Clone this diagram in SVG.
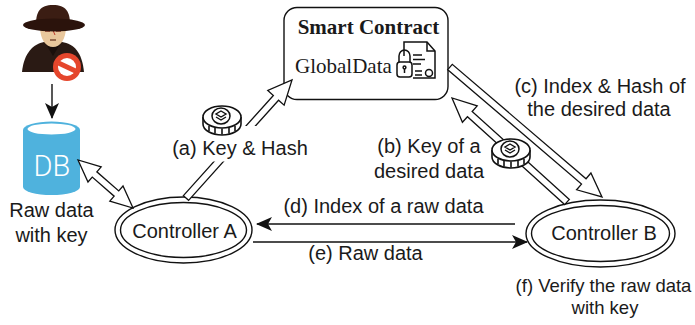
<svg xmlns="http://www.w3.org/2000/svg" width="695" height="325" viewBox="0 0 695 325">
  <style>
    .lbl { font-family: "Liberation Sans", Arial, sans-serif; font-size: 20px; fill: #1a1a1a; }
    .sm { font-size: 18.5px; }
    .mid { text-anchor: middle; }
    .ser { font-family: "Liberation Serif", "Times New Roman", serif; font-size: 21px; fill: #1a1a1a; }
    .ln { fill: none; stroke: #111; stroke-width: 1.4; }
    .blk { fill: #fff; stroke: #111; stroke-width: 1.3; stroke-linejoin: miter; }
    .ell { fill: #fff; stroke: #111; stroke-width: 1.4; }
  </style>
  <defs>
    <marker id="ah" markerWidth="16" markerHeight="14" refX="15" refY="7" orient="auto" markerUnits="userSpaceOnUse">
      <path d="M0,0 L16,7 L0,14 L4,7 Z" fill="#111"/>
    </marker>
    <!-- token coin: top face, rim with notches, stacked-layer emblem -->
    <g id="coin">
      <path d="M-19,0 v7 a19,11 0 0 0 38,0 v-7" fill="#fff" stroke="#111" stroke-width="1.6"/>
      <g stroke="#111" stroke-width="1.6">
        <line x1="-13" y1="9" x2="-13" y2="14"/>
        <line x1="-7" y1="11" x2="-7" y2="16.5"/>
        <line x1="0" y1="11.5" x2="0" y2="17.5"/>
        <line x1="7" y1="11" x2="7" y2="16.5"/>
        <line x1="13" y1="9" x2="13" y2="14"/>
      </g>
      <ellipse cx="0" cy="0" rx="19" ry="11" fill="#fff" stroke="#111" stroke-width="1.6"/>
      <ellipse cx="-1" cy="-1" rx="9" ry="8" fill="none" stroke="#111" stroke-width="1.5"/>
      <path d="M-1,-6 L4,-3 L-1,0 L-6,-3 Z" fill="none" stroke="#111" stroke-width="1.4"/>
      <path d="M-6,0 L-1,3 L4,0" fill="none" stroke="#111" stroke-width="1.4"/>
    </g>
  </defs>

  <!-- intruder -->
  <g id="intruder">
    <path d="M22,72 C24,52 34,44 44,42 L62,42 C74,44 82,52 84,72 Z" fill="#2a1a14"/>
    <path d="M44,41 L53,56 L62,41 Z" fill="#1a0f0b"/>
    <path d="M40,26 C40,40 46,47 53,47 C60,47 66,40 66,26 Z" fill="#e9c79c"/>
    <path d="M45,31 L50,31 M56,31 L61,31" stroke="#8b3a2a" stroke-width="1.5"/>
    <path d="M50,40 L56,40" stroke="#6b3a24" stroke-width="1.3"/>
    <path d="M52,28 L55,35" stroke="#c0392b" stroke-width="1"/>
    <path d="M36,24 C36,12 40,5 53,5 C66,5 70,12 70,24 Z" fill="#3b1d13"/>
    <path d="M36,20 L70,20 L70,24 L36,24 Z" fill="#6a2e1e"/>
    <ellipse cx="54" cy="25" rx="31" ry="6.5" fill="#2b130c"/>
    <circle cx="67" cy="67" r="14" fill="#e5462c"/>
    <circle cx="67" cy="67" r="9" fill="#fff"/>
    <path d="M58.5,63 L75.5,71" stroke="#e5462c" stroke-width="5"/>
  </g>

  <!-- database -->
  <g id="db">
    <path d="M23,130 V187 A28.5,8 0 0 0 80,187 V130 Z" fill="#4fb2dd"/>
    <ellipse cx="51.5" cy="130" rx="28.5" ry="8.5" fill="#4fb2dd"/>
    <ellipse cx="51.5" cy="129" rx="24" ry="5.5" fill="#fff"/>
    <text x="52" y="176" text-anchor="middle" font-family="Roboto, 'Liberation Sans', sans-serif" font-weight="300" font-size="29" fill="#fff">DB</text>
    <text class="lbl mid" x="51.5" y="217">Raw data</text>
    <text class="lbl mid" x="51.5" y="242">with key</text>
  </g>

  <!-- smart contract -->
  <g id="contract">
    <rect x="284" y="7.5" width="164" height="92" rx="13" ry="13" fill="#fff" stroke="#111" stroke-width="1.4"/>
    <text class="ser mid" x="368.5" y="34" font-weight="bold">Smart Contract</text>
    <text class="ser" x="295" y="73">GlobalData</text>
    <g fill="none" stroke="#111" stroke-width="1.5">
      <path d="M404,56 V42 H427 L435,51 V78 H413"/>
      <path d="M427,42 V51 H435"/>
      <path d="M413,55 H422 M413,59.5 H425 M413,64 H421"/>
      <path d="M415,71 H422 M415,75 H422"/>
      <circle cx="429" cy="73" r="3.5"/>
      <path d="M399,62 V56 A5.5,6 0 0 1 410,56 V62"/>
      <rect x="397" y="62" width="15" height="15" rx="3"/>
      <circle cx="404.5" cy="67.5" r="1.4"/>
      <path d="M404.5,69 V73"/>
    </g>
  </g>

  <!-- controllers -->
  <g id="controller-a">
    <ellipse class="ell" cx="183.5" cy="230" rx="68.5" ry="33"/>
    <ellipse class="ell" cx="183.5" cy="230" rx="63" ry="27.5"/>
    <text class="lbl mid" x="184.5" y="238">Controller A</text>
  </g>
  <g id="controller-b">
    <ellipse class="ell" cx="600.5" cy="233.5" rx="74.5" ry="33.5"/>
    <ellipse class="ell" cx="600.5" cy="233.5" rx="69" ry="28"/>
    <text class="lbl mid" x="604" y="240">Controller B</text>
  </g>

  <!-- connectors -->
  <g id="connectors">
    <line class="ln" x1="52" y1="84" x2="52" y2="118" marker-end="url(#ah)"/>
    <polygon class="blk" points="78,160 87.99,182 92.27,177.11 114.13,196.17 109.85,201.06 133,208 123.01,186 118.73,190.89 96.87,171.83 101.15,166.94"/>
    <!-- (a) -->
    <polygon class="blk" points="188.6,200.34 278.56,100.2 284.14,105.21 292,80 267.78,90.51 273.36,95.52 183.4,195.66"/>
    <rect x="165" y="126" width="150" height="35.5" fill="#fff"/>
    <!-- (c) -->
    <polygon class="blk" points="447.73,69.66 581.49,184.06 576.61,189.76 602,197 590.91,173.04 586.04,178.74 452.28,64.34"/>
    <!-- (b) -->
    <polygon class="blk" points="569.35,199.4 472.15,111.5 477.18,105.94 452,98 462.42,122.26 467.45,116.7 564.65,204.6"/>
    <!-- (d), (e) -->
    <line class="ln" x1="515" y1="224" x2="257" y2="224" marker-end="url(#ah)"/>
    <line class="ln" x1="253" y1="242" x2="527" y2="242" marker-end="url(#ah)"/>
    <use href="#coin" x="222" y="117"/>
    <use href="#coin" x="511" y="150"/>
  </g>

  <!-- labels -->
  <text class="lbl mid" x="240" y="155">(a) Key &amp; Hash</text>
  <text class="lbl mid" x="429" y="153">(b) Key of a</text>
  <text class="lbl mid" x="429" y="178">desired data</text>
  <text class="lbl mid" x="600" y="93">(c) Index &amp; Hash of</text>
  <text class="lbl mid" x="599" y="116">the desired data</text>
  <text class="lbl mid" x="383.5" y="213">(d) Index of a raw data</text>
  <text class="lbl mid" x="365.5" y="260">(e) Raw data</text>
  <text class="lbl sm mid" x="603.5" y="292">(f) Verify the raw data</text>
  <text class="lbl sm mid" x="605" y="314">with key</text>
</svg>
